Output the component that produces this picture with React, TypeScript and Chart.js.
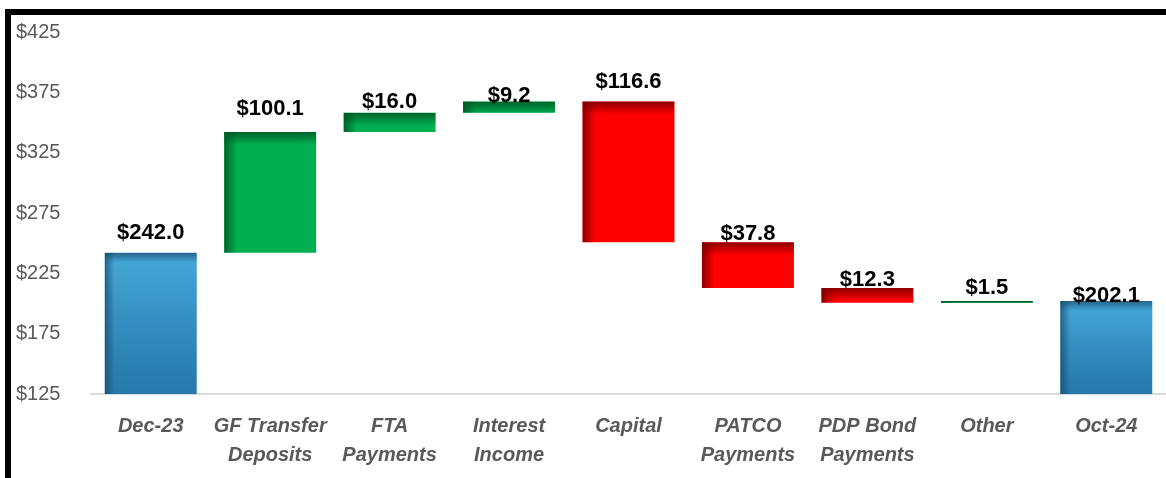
import React, { useEffect, useRef } from 'react';
import { Chart, registerables } from 'chart.js';

Chart.register(...registerables);

// ---- Data ----
const categories: (string | string[])[] = [
  'Dec-23',
  ['GF Transfer', 'Deposits'],
  ['FTA', 'Payments'],
  ['Interest', 'Income'],
  'Capital',
  ['PATCO', 'Payments'],
  ['PDP Bond', 'Payments'],
  'Other',
  'Oct-24',
];
const startBalance = 242.0;
const changes = [100.1, 16.0, 9.2, -116.6, -37.8, -12.3, 1.5];
const endBalance = 202.1;
const yTicks = [125, 175, 225, 275, 325, 375, 425];

// ---- Derived waterfall table ----
const floor = yTicks[0];
const ranges: [number, number][] = [];
const kinds: string[] = [];
const labelValues: number[] = [];
ranges.push([floor, startBalance]);
kinds.push('total');
labelValues.push(startBalance);
let running = startBalance;
changes.forEach((c) => {
  ranges.push([running, running + c]);
  running += c;
  kinds.push(c >= 0 ? 'up' : 'down');
  labelValues.push(Math.abs(c));
});
ranges.push([floor, endBalance]);
kinds.push('total');
labelValues.push(endBalance);

// ---- Styles ----
const FONT = '"Liberation Sans", Arial, sans-serif';
const kindColor: Record<string, string> = { total: '#3196C8', up: '#00B050', down: '#FF0000' };
const kindShadow: Record<string, string> = { total: '22,70,100', up: '0,85,35', down: '120,0,0' };
const labelGap = [21, 24, 12, 7, 21, 9, 9, 14, 6];

const shadePlugin = {
  id: 'shade',
  afterDatasetsDraw(chart: any) {
    const ctx = chart.ctx as CanvasRenderingContext2D;
    const meta = chart.getDatasetMeta(0);
    meta.data.forEach((bar: any, i: number) => {
      const { x, y, base, width } = bar.getProps(['x', 'y', 'base', 'width'], true);
      const left = x - width / 2;
      const top = Math.min(y, base);
      const h = Math.abs(base - y);
      const kind = kinds[i];
      ctx.save();
      ctx.beginPath();
      ctx.rect(left, top, width, h);
      ctx.clip();
      if (kind === 'total') {
        const g = ctx.createLinearGradient(0, top, 0, top + h);
        g.addColorStop(0, 'rgba(100,195,240,0.45)');
        g.addColorStop(1, 'rgba(15,65,115,0.35)');
        ctx.fillStyle = g;
        ctx.fillRect(left, top, width, h);
      }
      const sh = kindShadow[kind];
      const depth = kind === 'total' ? 10 : 13;
      const a = kind === 'total' ? 0.7 : 0.85;
      const gl = ctx.createLinearGradient(left, 0, left + depth, 0);
      gl.addColorStop(0, `rgba(${sh},${a})`);
      gl.addColorStop(1, `rgba(${sh},0)`);
      ctx.fillStyle = gl;
      ctx.fillRect(left, top, depth, h);
      const gt = ctx.createLinearGradient(0, top, 0, top + depth);
      gt.addColorStop(0, `rgba(${sh},${a})`);
      gt.addColorStop(1, `rgba(${sh},0)`);
      ctx.fillStyle = gt;
      ctx.fillRect(left, top, width, depth);
      ctx.restore();
    });
  },
  afterDraw(chart: any) {
    const ctx = chart.ctx as CanvasRenderingContext2D;
    const meta = chart.getDatasetMeta(0);
    ctx.save();
    ctx.font = `bold 22px ${FONT}`;
    ctx.fillStyle = '#000000';
    ctx.textAlign = 'center';
    ctx.textBaseline = 'middle';
    meta.data.forEach((bar: any, i: number) => {
      const { x, y, base } = bar.getProps(['x', 'y', 'base'], true);
      const top = Math.min(y, base);
      ctx.fillText('$' + labelValues[i].toFixed(1), x, top - labelGap[i] + 1);
    });
    ctx.restore();
  },
};

export default function App() {
  const canvasRef = useRef<HTMLCanvasElement | null>(null);

  useEffect(() => {
    if (!canvasRef.current) return;
    const chart = new Chart(canvasRef.current, {
      type: 'bar',
      data: {
        labels: categories as any,
        datasets: [
          {
            data: ranges as any,
            backgroundColor: kinds.map((k) => kindColor[k]),
            borderWidth: 0,
            barPercentage: 0.77,
            categoryPercentage: 1,
          },
        ],
      },
      options: {
        animation: false,
        responsive: true,
        maintainAspectRatio: false,
        layout: { padding: { top: 17, left: 5, right: 0, bottom: 0 } },
        plugins: {
          legend: { display: false },
          tooltip: { enabled: false },
          title: { display: false },
        },
        scales: {
          x: {
            grid: { display: false, drawTicks: false },
            border: { display: true, color: '#D9D9D9', width: 2 },
            ticks: {
              color: '#595959',
              font: { family: FONT, size: 20, weight: 'bold', style: 'italic', lineHeight: 1.45 },
              padding: 18,
              maxRotation: 0,
              autoSkip: false,
            },
            afterFit: (s: any) => {
              s.height = 84;
            },
          },
          y: {
            min: yTicks[0],
            max: yTicks[yTicks.length - 1],
            afterBuildTicks: (s: any) => {
              s.ticks = yTicks.map((v) => ({ value: v }));
            },
            grid: { display: false, drawTicks: false },
            border: { display: false },
            ticks: {
              color: '#595959',
              font: { family: FONT, size: 20 },
              crossAlign: 'far',
              padding: 0,
              callback: (v: any) => '$' + v,
            },
            afterFit: (s: any) => {
              s.width = 75;
            },
          },
        },
      },
      plugins: [shadePlugin],
    });
    return () => chart.destroy();
  }, []);

  return (
    <div
      style={{
        position: 'fixed',
        left: 5,
        top: 9,
        width: 1161,
        height: 469,
        boxSizing: 'border-box',
        borderTop: '6px solid #000',
        borderLeft: '6px solid #000',
        background: '#fff',
      }}
    >
      <div style={{ position: 'relative', width: 1155, height: 463 }}>
        <canvas ref={canvasRef} />
      </div>
    </div>
  );
}
